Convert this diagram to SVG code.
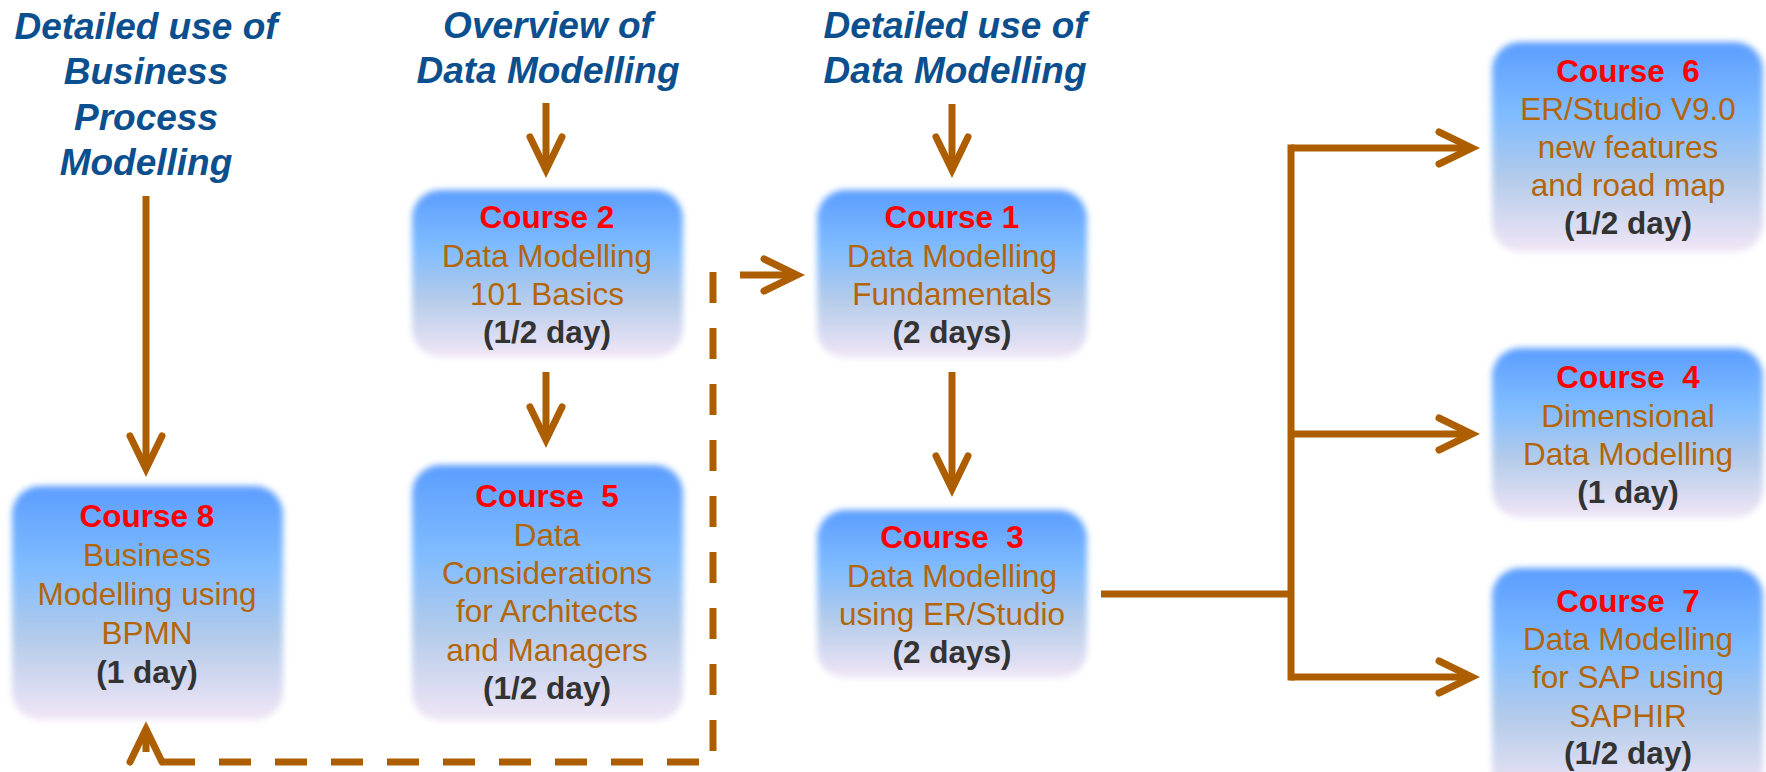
<svg xmlns="http://www.w3.org/2000/svg" width="1766" height="772" viewBox="0 0 1766 772">
  <style>
    .hd { font-family: "Liberation Sans", Arial, sans-serif; font-size: 37px; font-weight: bold; font-style: italic; fill: #0b4f8e; text-anchor: middle; }
    .ct { font-family: "Liberation Sans", Arial, sans-serif; font-size: 31.5px; font-weight: bold; fill: #ff0000; text-anchor: middle; }
    .bd { font-family: "Liberation Sans", Arial, sans-serif; font-size: 31.5px; fill: #b3650a; text-anchor: middle; }
    .du { font-family: "Liberation Sans", Arial, sans-serif; font-size: 31.5px; font-weight: bold; fill: #333333; text-anchor: middle; }
    .box { fill: url(#boxFill); filter: url(#soft); }
    .arrow { fill: none; stroke: #ad5e00; stroke-width: 7; marker-end: url(#head); }
    .line { fill: none; stroke: #ad5e00; stroke-width: 7; }
    .dash { fill: none; stroke: #ad5e00; stroke-width: 7; }
  </style>
  <defs>
    <linearGradient id="boxFill" x1="0" y1="0" x2="0" y2="1">
      <stop offset="0" stop-color="#5b9dff"/>
      <stop offset="0.35" stop-color="#80bcff"/>
      <stop offset="0.65" stop-color="#b3cbea"/>
      <stop offset="1" stop-color="#f1e6f6"/>
    </linearGradient>
    <filter id="soft" x="-10%" y="-10%" width="120%" height="120%">
      <feGaussianBlur stdDeviation="3"/>
    </filter>
    <marker id="head" markerUnits="userSpaceOnUse" orient="auto" refX="0" refY="0" markerWidth="50" markerHeight="50" viewBox="-45 -25 50 50" overflow="visible">
      <path d="M-33,-16 L0,0 L-33,16" fill="none" stroke="#ad5e00" stroke-width="7" stroke-linecap="round"/>
    </marker>
  </defs>

  <rect width="1766" height="772" fill="#ffffff"/>

  <!-- column headings -->
  <g id="heading-bpm">
    <text class="hd" x="146" y="39">Detailed use of</text>
    <text class="hd" x="146" y="84">Business</text>
    <text class="hd" x="146" y="130">Process</text>
    <text class="hd" x="146" y="175">Modelling</text>
  </g>
  <g id="heading-overview">
    <text class="hd" x="548" y="38">Overview of</text>
    <text class="hd" x="548" y="83">Data Modelling</text>
  </g>
  <g id="heading-detailed">
    <text class="hd" x="955" y="38">Detailed use of</text>
    <text class="hd" x="955" y="83">Data Modelling</text>
  </g>

  <!-- connectors -->
  <g id="connectors">
    <path class="arrow" d="M146,196 V469"/>
    <path class="arrow" d="M546,103 V170"/>
    <path class="arrow" d="M952,104 V170"/>
    <path class="arrow" d="M546,372 V440"/>
    <path class="arrow" d="M952,372 V489"/>
    <path class="line" d="M1101,594 H1291"/>
    <path class="line" d="M1291,148 V677" stroke-linecap="square"/>
    <path class="arrow" d="M1291,148 H1472"/>
    <path class="arrow" d="M1291,434 H1472"/>
    <path class="arrow" d="M1291,677 H1472"/>
    <!-- dashed return path from Course 5 column back to Course 8 and on to Course 1 -->
    <path class="arrow" d="M146,752 V729"/>
    <path class="dash" d="M163,762 H699" stroke-dasharray="32 24"/>
    <path class="dash" d="M713,272 V752" stroke-dasharray="31 25"/>
    <path class="arrow" d="M740,275 H797"/>
  </g>

  <!-- course boxes -->
  <g id="course8">
    <rect class="box" x="12" y="486" width="271" height="234" rx="28"/>
    <text class="ct" x="147" y="527">Course 8</text>
    <text class="bd" x="147" y="566">Business</text>
    <text class="bd" x="147" y="605">Modelling using</text>
    <text class="bd" x="147" y="644">BPMN</text>
    <text class="du" x="147" y="683">(1 day)</text>
  </g>
  <g id="course2">
    <rect class="box" x="412" y="190" width="271" height="167" rx="28"/>
    <text class="ct" x="547" y="228">Course 2</text>
    <text class="bd" x="547" y="267">Data Modelling</text>
    <text class="bd" x="547" y="305">101 Basics</text>
    <text class="du" x="547" y="343">(1/2 day)</text>
  </g>
  <g id="course5">
    <rect class="box" x="412" y="465" width="271" height="256" rx="28"/>
    <text class="ct" x="547" y="507">Course&#160; 5</text>
    <text class="bd" x="547" y="546">Data</text>
    <text class="bd" x="547" y="584">Considerations</text>
    <text class="bd" x="547" y="622">for Architects</text>
    <text class="bd" x="547" y="661">and Managers</text>
    <text class="du" x="547" y="699">(1/2 day)</text>
  </g>
  <g id="course1">
    <rect class="box" x="817" y="190" width="270" height="168" rx="28"/>
    <text class="ct" x="952" y="228">Course 1</text>
    <text class="bd" x="952" y="267">Data Modelling</text>
    <text class="bd" x="952" y="305">Fundamentals</text>
    <text class="du" x="952" y="343">(2 days)</text>
  </g>
  <g id="course3">
    <rect class="box" x="817" y="510" width="270" height="168" rx="28"/>
    <text class="ct" x="952" y="548">Course&#160; 3</text>
    <text class="bd" x="952" y="587">Data Modelling</text>
    <text class="bd" x="952" y="625">using ER/Studio</text>
    <text class="du" x="952" y="663">(2 days)</text>
  </g>
  <g id="course6">
    <rect class="box" x="1492" y="42" width="271" height="210" rx="28"/>
    <text class="ct" x="1628" y="82">Course&#160; 6</text>
    <text class="bd" x="1628" y="120">ER/Studio V9.0</text>
    <text class="bd" x="1628" y="158">new features</text>
    <text class="bd" x="1628" y="196">and road map</text>
    <text class="du" x="1628" y="234">(1/2 day)</text>
  </g>
  <g id="course4">
    <rect class="box" x="1492" y="348" width="271" height="170" rx="28"/>
    <text class="ct" x="1628" y="388">Course&#160; 4</text>
    <text class="bd" x="1628" y="427">Dimensional</text>
    <text class="bd" x="1628" y="465">Data Modelling</text>
    <text class="du" x="1628" y="503">(1 day)</text>
  </g>
  <g id="course7">
    <rect class="box" x="1492" y="568" width="271" height="230" rx="28"/>
    <text class="ct" x="1628" y="612">Course&#160; 7</text>
    <text class="bd" x="1628" y="650">Data Modelling</text>
    <text class="bd" x="1628" y="688">for SAP using</text>
    <text class="bd" x="1628" y="727">SAPHIR</text>
    <text class="du" x="1628" y="764">(1/2 day)</text>
  </g>
</svg>
